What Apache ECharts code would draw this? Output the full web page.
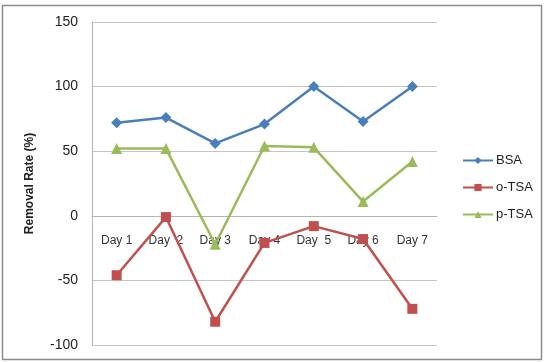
<!DOCTYPE html>
<html>
<head>
<meta charset="utf-8">
<script src="https://cdn.jsdelivr.net/npm/echarts@6/dist/echarts.min.js"></script>
<style>
html, body { margin: 0; padding: 0; background: #fff; }
#main { width: 545px; height: 362px; }
</style>
</head>
<body>
<div id="main"></div>
<script>
// 数据
var days = ['Day 1', 'Day  2', 'Day 3', 'Day 4', 'Day  5', 'Day 6', 'Day 7'];
var bsa = [72, 76, 56, 71, 100, 73, 100];
var oTsa = [-46, -1, -82, -21, -8, -18, -72];
var pTsa = [52, 52, -22, 54, 53, 11, 42];
var yTicks = [-100, -50, 0, 50, 100, 150];

var myChart = echarts.init(document.getElementById('main'));

var font = '"Liberation Sans", Arial, sans-serif';

// 绘图区
var gridTop = 22, gridBottom = 17, chartH = 362;
var yMin = yTicks[0], yMax = yTicks[yTicks.length - 1];
var gridH = chartH - gridTop - gridBottom;
// 横轴放在 0 处
var zeroOffset = -gridH * (0 - yMin) / (yMax - yMin);

var option = {
    backgroundColor: '#fff',
    animation: false,
    // 外边框
    graphic: [{
        type: 'rect',
        shape: { x: 2.5, y: 5.5, width: 539, height: 354 },
        style: { fill: 'none', stroke: '#8c8c8c', lineWidth: 1.5 },
        silent: true
    }],
    grid: {
        left: 92,
        right: 108,
        top: gridTop,
        bottom: gridBottom,
        containLabel: false,
        outerBoundsMode: 'none'
    },
    legend: {
        orient: 'vertical',
        left: 457,
        top: 149,
        itemWidth: 30,
        itemHeight: 9,
        itemGap: 14,
        textStyle: { fontFamily: font, fontSize: 13, color: '#222', padding: [0, 0, 0, -2] },
        data: ['BSA', 'o-TSA', 'p-TSA']
    },
    xAxis: {
        type: 'category',
        data: days,
        boundaryGap: true,
        offset: zeroOffset,
        axisLine: { onZero: false, lineStyle: { color: '#b3b3b3' } },
        axisTick: { show: false },
        axisLabel: { margin: 19, fontFamily: font, fontSize: 12, color: '#333' },
        splitLine: { show: false }
    },
    yAxis: {
        type: 'value',
        min: yMin,
        max: yMax,
        interval: 50,
        name: 'Removal Rate (%)',
        nameLocation: 'middle',
        nameGap: 56,
        nameRotate: 90,
        nameTextStyle: { fontFamily: font, fontSize: 12, fontWeight: 'bold', color: '#222' },
        axisLine: { show: true, lineStyle: { color: '#b3b3b3' } },
        axisTick: { show: false },
        axisLabel: { margin: 14, fontFamily: font, fontSize: 14, color: '#222' },
        splitLine: { lineStyle: { color: '#c4c4c4' } }
    },
    series: [{
        name: 'BSA',
        type: 'line',
        data: bsa,
        symbol: 'diamond',
        symbolSize: 11,
        color: '#4a7ebb',
        lineStyle: { width: 2.5 }
    }, {
        name: 'o-TSA',
        type: 'line',
        data: oTsa,
        symbol: 'rect',
        symbolSize: 10,
        color: '#c0504d',
        lineStyle: { width: 2.5 }
    }, {
        name: 'p-TSA',
        type: 'line',
        data: pTsa,
        symbol: 'triangle',
        symbolSize: 11,
        color: '#9bbb59',
        lineStyle: { width: 2.5 }
    }]
};

myChart.setOption(option);
</script>
</body>
</html>
